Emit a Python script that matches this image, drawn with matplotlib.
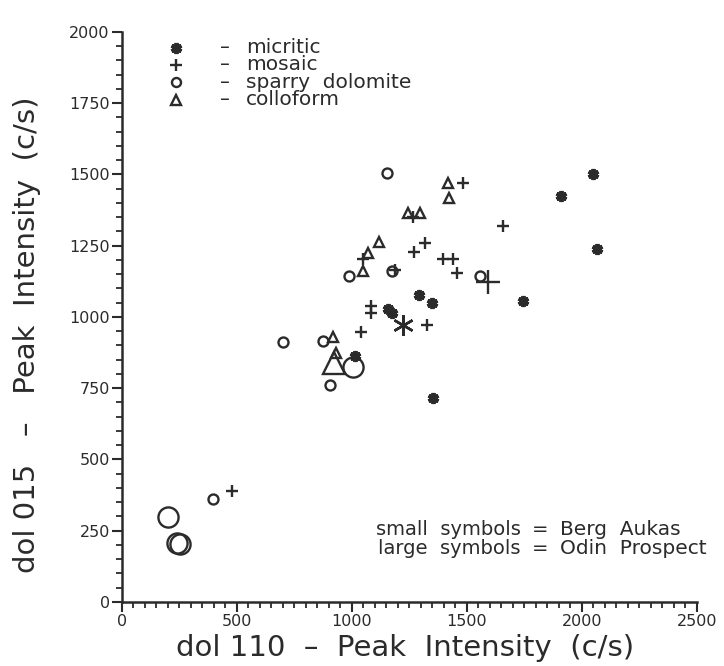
import matplotlib
matplotlib.use("Agg")
import matplotlib.pyplot as plt
from matplotlib.ticker import MultipleLocator

# dol 110 vs dol 015 peak intensities (c/s), grouped by dolomite texture
micritic_small_x = [2050, 1910, 2065, 1746, 1294, 1348, 1159, 1174, 1352, 1014]
micritic_small_y = [1500, 1425, 1240, 1057, 1077, 1050, 1027, 1013, 715, 863]
micritic_large_x = [1222]
micritic_large_y = [972]

mosaic_small_x = [1483, 1268, 1657, 1319, 1272, 1048, 1398, 1442, 1457, 1190,
                  1084, 1084, 1326, 1039, 478]
mosaic_small_y = [1469, 1352, 1319, 1261, 1229, 1202, 1202, 1202, 1155, 1165,
                  1039, 1014, 972, 948, 391]
mosaic_large_x = [1594]
mosaic_large_y = [1124]

sparry_small_x = [1152, 1174, 990, 1558, 877, 700, 906, 398]
sparry_small_y = [1506, 1162, 1144, 1144, 916, 913, 761, 360]
sparry_large_x = [1007, 200, 240, 255]
sparry_large_y = [824, 299, 206, 203]

colloform_small_x = [1417, 1423, 1243, 1297, 1120, 1072, 1048, 917, 932]
colloform_small_y = [1469, 1419, 1364, 1366, 1264, 1224, 1162, 931, 875]
colloform_large_x = [923]
colloform_large_y = [837]

legend_labels = ["micritic", "mosaic", "sparry  dolomite", "colloform"]
x_ticks = [0, 500, 1000, 1500, 2000, 2500]
y_ticks = [0, 250, 500, 750, 1000, 1250, 1500, 1750, 2000]

INK = "#2b2b2b"
plt.rcParams["font.family"] = ["DejaVu Sans"]

fig = plt.figure(figsize=(7.24, 6.66), dpi=100)
ax = fig.add_axes([0.168, 0.0961, 0.7942, 0.856])
ax.set_xlim(0, 2500)
ax.set_ylim(0, 2000)

small, large = 7.2, 14.5
lw = 1.7

def pts(x, y, marker, size, filled=False, mew=lw):
    ax.plot(x, y, linestyle="none", marker=marker, markersize=size,
            markeredgecolor=INK, markerfacecolor=INK if filled else "none",
            markeredgewidth=mew, clip_on=False)

star = (6, 2, 0)
pts(micritic_small_x, micritic_small_y, star, 8, filled=True, mew=2.8)
pts(micritic_large_x, micritic_large_y, star, 15, mew=1.8)
pts(mosaic_small_x, mosaic_small_y, "+", 8.5)
pts(mosaic_large_x, mosaic_large_y, "+", 17)
pts(sparry_small_x, sparry_small_y, "o", small)
pts(sparry_large_x, sparry_large_y, "o", large)
pts(colloform_small_x, colloform_small_y, "^", small + 0.5)
pts(colloform_large_x, colloform_large_y, "^", large + 1)

# axes styling
for side in ("top", "right"):
    ax.spines[side].set_visible(False)
for side in ("left", "bottom"):
    ax.spines[side].set_linewidth(1.8)
    ax.spines[side].set_color(INK)

ax.set_xticks(x_ticks)
ax.set_yticks(y_ticks)
ax.xaxis.set_minor_locator(MultipleLocator(50))
ax.yaxis.set_minor_locator(MultipleLocator(50))
ax.tick_params(which="major", direction="out", length=7, width=1.5,
               color=INK, labelcolor=INK, labelsize=11.5, pad=1.5)
ax.tick_params(which="minor", direction="out", length=4.5, width=1.3, color=INK)

fig.text(405 / 724, 1 - 648 / 666, "dol 110  \u2013  Peak  Intensity  (c/s)",
         ha="center", va="center", fontsize=21, color=INK)
fig.text(27 / 724, 1 - 335 / 666, "dol 015   \u2013   Peak  Intensity  (c/s)",
         ha="center", va="center", rotation=90, fontsize=21, color=INK)

# symbol key
key_markers = [(star, True, 8, 2.8), ("+", False, 8.5, lw),
               ("o", False, 6.5, lw), ("^", False, 7, lw)]
key_y = [1945, 1885, 1823, 1762]
for (m, filled, ms, mew), label, yk in zip(key_markers, legend_labels, key_y):
    pts([235], [yk], m, ms, filled=filled, mew=mew)
    ax.text(449, yk, "\u2013", ha="center", va="center", fontsize=14, color=INK)
    ax.text(540, yk, label, ha="left", va="center", fontsize=14.5, color=INK)

# data source note
for yk, left, right in [(256, "small  symbols", "Berg  Aukas"),
                        (186, "large  symbols", "Odin  Prospect")]:
    ax.text(1735, yk, left, ha="right", va="center", fontsize=14, color=INK)
    ax.text(1819, yk, "=", ha="center", va="center", fontsize=14, color=INK)
    ax.text(1905, yk, right, ha="left", va="center", fontsize=14.5, color=INK)

fig.savefig("out.png", dpi=100, facecolor="white")
